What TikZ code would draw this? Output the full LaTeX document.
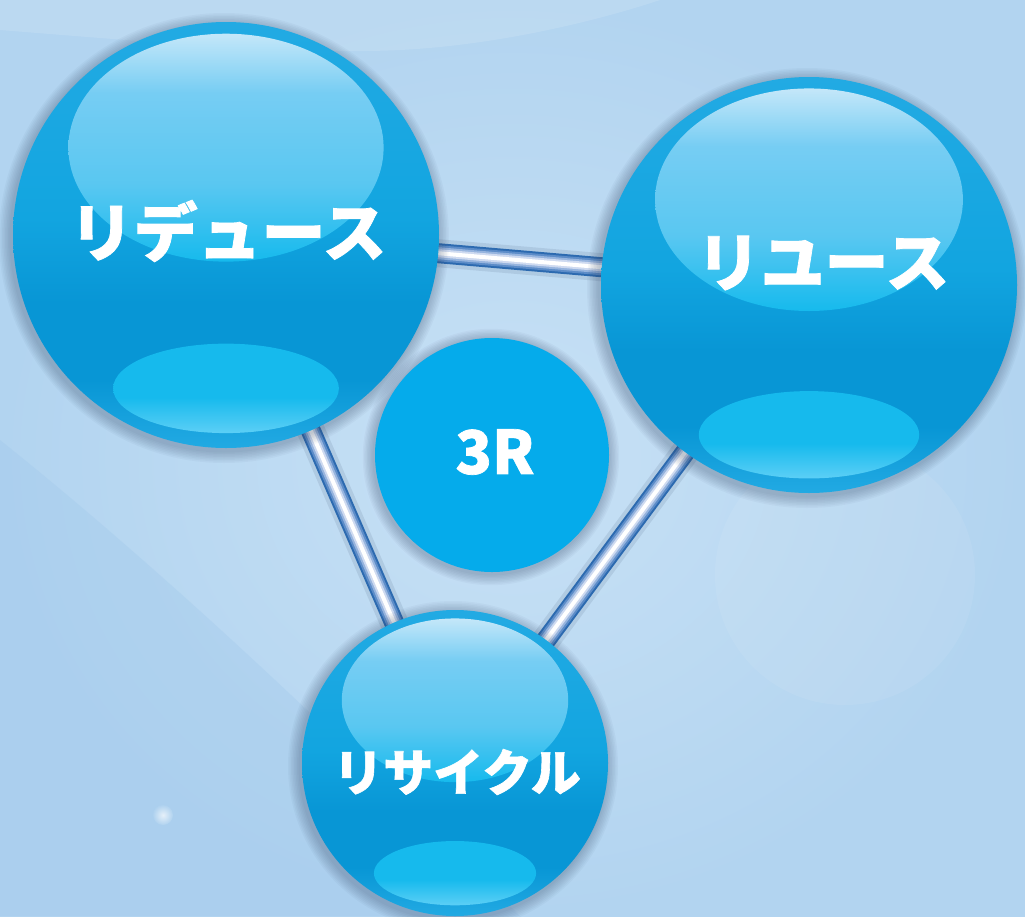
\documentclass[tikz,border=0pt]{standalone}
\usepackage{fontspec}
\newfontfamily\jpfont{Noto Sans CJK JP}[BoldFeatures={FakeBold=1.2}]
\usetikzlibrary{calc}

\definecolor{colBg}{RGB}{178, 212, 240}
\definecolor{colBgLight}{RGB}{200, 225, 245}
\definecolor{colBgDark}{RGB}{160, 200, 235}
\definecolor{colRim}{RGB}{34, 170, 227}
\definecolor{colBody}{RGB}{18, 165, 224}
\definecolor{colDeep}{RGB}{8, 150, 213}
\definecolor{colHiTop}{RGB}{196, 231, 249}
\definecolor{colHiMid}{RGB}{118, 205, 243}
\definecolor{colGlow}{RGB}{22, 186, 237}
\definecolor{colGlowLow}{RGB}{92, 207, 246}
\definecolor{colCore}{RGB}{5, 171, 235}
\definecolor{colShadow}{RGB}{55, 75, 105}
\definecolor{colTubeA}{RGB}{44, 106, 176}
\definecolor{colTubeB}{RGB}{92, 140, 200}
\definecolor{colTubeC}{RGB}{150, 180, 222}
\definecolor{colTubeD}{RGB}{206, 218, 240}

% body of a glossy ball, top to bottom
\pgfdeclareverticalshading{ballbody}{100bp}{color(0bp)=(colRim); color(25bp)=(colRim);
  color(33bp)=(colDeep); color(42bp)=(colDeep); color(52bp)=(colBody);
  color(75bp)=(colRim); color(100bp)=(colRim)}
% upper highlight
\pgfdeclareverticalshading{ballhigh}{100bp}{color(0bp)=(colGlow); color(25bp)=(colGlow);
  color(42bp)=(colHiMid!70!colGlow); color(62bp)=(colHiMid); color(75bp)=(colHiTop);
  color(100bp)=(colHiTop)}
% lower glow
\pgfdeclareverticalshading{ballglow}{100bp}{color(0bp)=(colGlowLow); color(25bp)=(colGlowLow);
  color(45bp)=(colGlow); color(75bp)=(colGlow); color(100bp)=(colGlow)}

\begin{document}
\begin{tikzpicture}[x=1pt, y=-1pt,
    ball shadow/.style={colShadow, opacity=0.045},
    ball text/.style={text=white, inner sep=0pt}]
    \useasboundingbox (0,0) rectangle (1025,916);
    \clip (0,0) rectangle (1025,916);

    % --- Hintergrund ---
    \shade[inner color=colBgLight, outer color=colBg] (0,0) rectangle (1025,916);
    \fill[white, opacity=0.12] (0,0) -- (0,30) .. controls (150,42) and (300,55) .. (400,50)
        .. controls (500,45) and (600,20) .. (660,0) -- cycle;
    \fill[colBgDark, opacity=0.35] (0,440) .. controls (200,600) and (380,780) .. (520,916)
        -- (0,916) -- cycle;
    \fill[white, opacity=0.07] (845,575) circle[radius=130pt];
    \shade[inner color=white, outer color=colBg, opacity=0.7] (163,815) circle[radius=10pt];

    % --- Mittelpunkte ---
    \coordinate (cReduce) at (226,235);
    \coordinate (cReuse) at (809,285);
    \coordinate (cRecycle) at (455,763);
    \coordinate (cCore) at (492,455);

    % --- Roehren ---
    \foreach \a/\b in {cReduce/cReuse, cReduce/cRecycle, cReuse/cRecycle} {
        \draw[colShadow, opacity=0.12, line width=28pt] (\a) -- (\b);
        \foreach \w/\col in {20/colTubeA, 16/colTubeB, 12/colTubeC, 8/colTubeD, 4/white}
            \draw[\col, line width=\w pt] (\a) -- (\b);
    }

    % --- Kugeln ---
    \foreach \c/\r in {cReduce/213, cReuse/208, cRecycle/153} {
        \foreach \s in {1,...,8}
            \fill[ball shadow] ($(\c)+(-2,3)$) circle[radius=\r*1pt+\s*1.5pt];
        \shade[shading=ballbody] (\c) circle[radius=\r*1pt];
        \shade[shading=ballhigh] ($(\c)+(0,-0.41*\r)$)
            ellipse[x radius=0.74*\r*1pt, y radius=0.535*\r*1pt];
        \shade[shading=ballglow] ($(\c)+(0,0.72*\r)$)
            ellipse[x radius=0.53*\r*1pt, y radius=0.21*\r*1pt];
    }

    % Kern 3R
    \foreach \s in {1,...,8}
        \fill[ball shadow] ($(cCore)+(-1,2)$) circle[radius=117pt+\s*1.4pt];
    \fill[colCore] (cCore) circle[radius=117pt];

    % --- Beschriftung ---
    \foreach \n/\t/\x/\y/\fs in {reduce/リデュース/228/231/64, reuse/リユース/823/263/64,
                                 recycle/リサイクル/457/772/50}
        \node[ball text, font=\jpfont\bfseries\fontsize{\fs}{\fs}\selectfont] (\n) at (\x,\y) {\t};
    \node[ball text, font=\jpfont\bfseries\fontsize{60}{60}\selectfont] (core) at (495,452) {3R};
\end{tikzpicture}
\end{document}
